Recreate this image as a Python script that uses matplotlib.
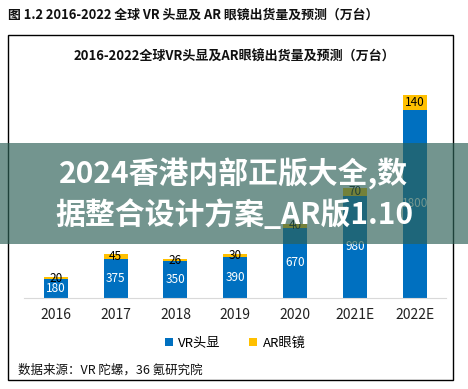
import matplotlib
matplotlib.use("Agg")
import matplotlib.pyplot as plt
from matplotlib.patches import Rectangle
import numpy as np

plt.rcParams['font.family'] = ['Noto Sans CJK SC', 'DejaVu Sans']

years = ['2016', '2017', '2018', '2019', '2020', '2021E', '2022E']
vr = [180, 375, 350, 390, 670, 980, 1800]
ar = [20, 45, 26, 30, 40, 70, 140]

W, H = 468, 389
fig = plt.figure(figsize=(W / 100, H / 100), dpi=100)

def fx(px):  # pixel x -> figure fraction
    return px / W

def fy(py):  # pixel y (from top) -> figure fraction
    return 1 - py / H

# outer title and frame
fig.text(fx(8), fy(15), '图 1.2 2016-2022 全球 VR 头显及 AR 眼镜出货量及预测（万台）',
         fontsize=9.3, fontweight='bold', va='center', ha='left', color='#111111')
fig.patches.append(Rectangle((fx(8), fy(380)), fx(453) - fx(8), fy(35) - fy(380),
                             transform=fig.transFigure, fill=False, edgecolor='black', lw=1))
fig.text(fx(234), fy(57), '2016-2022全球VR头显及AR眼镜出货量及预测（万台）',
         fontsize=9.4, fontweight='bold', va='center', ha='center', color='#111111')

# plot area
ax = fig.add_axes([fx(24), fy(298), fx(446) - fx(24), fy(89) - fy(298)])
x = np.arange(len(years))
ax.bar(x, vr, width=0.4, color='#0070C0', label='VR头显')
ax.bar(x, ar, width=0.4, bottom=vr, color='#FFC000', label='AR眼镜')
for i in range(len(years)):
    ax.text(x[i], vr[i] / 2, str(vr[i]), ha='center', va='center', color='white', fontsize=8.5)
    ax.text(x[i], vr[i] + ar[i] / 2, str(ar[i]), ha='center', va='center', color='black', fontsize=8.5)
ax.set_xlim(-0.53, 6.52)
ax.set_ylim(0, 2000)
ax.set_yticks([])
ax.set_xticks(x)
ax.set_xticklabels(years, fontsize=10, color='#222222')
ax.tick_params(axis='x', length=0, pad=7)
for s in ['top', 'right', 'left']:
    ax.spines[s].set_visible(False)
ax.spines['bottom'].set_color('#D9D9D9')

ax.legend(loc='center', bbox_to_anchor=(0.5, (fy(343) - fy(298)) / (fy(89) - fy(298))),
          ncol=2, frameon=False, fontsize=9.5, handlelength=0.6, handleheight=0.6,
          columnspacing=2.2, handletextpad=0.4)

fig.text(fx(18), fy(370), '数据来源：VR 陀螺，36 氪研究院', fontsize=9, va='center', ha='left', color='#111111')

# overlay banner
fig.patches.append(Rectangle((0, fy(244)), 1, fy(143) - fy(244), transform=fig.transFigure,
                             facecolor='#2E6258', alpha=0.67, edgecolor='none', zorder=10))
fig.text(0.5, fy(174), '2024香港内部正版大全,数', fontsize=21.5, fontweight='heavy',
         color='white', ha='center', va='center', zorder=11)
fig.text(0.5, fy(215), '据整合设计方案_AR版1.10', fontsize=21.5, fontweight='heavy',
         color='white', ha='center', va='center', zorder=11)

fig.savefig('out.png', dpi=100)
